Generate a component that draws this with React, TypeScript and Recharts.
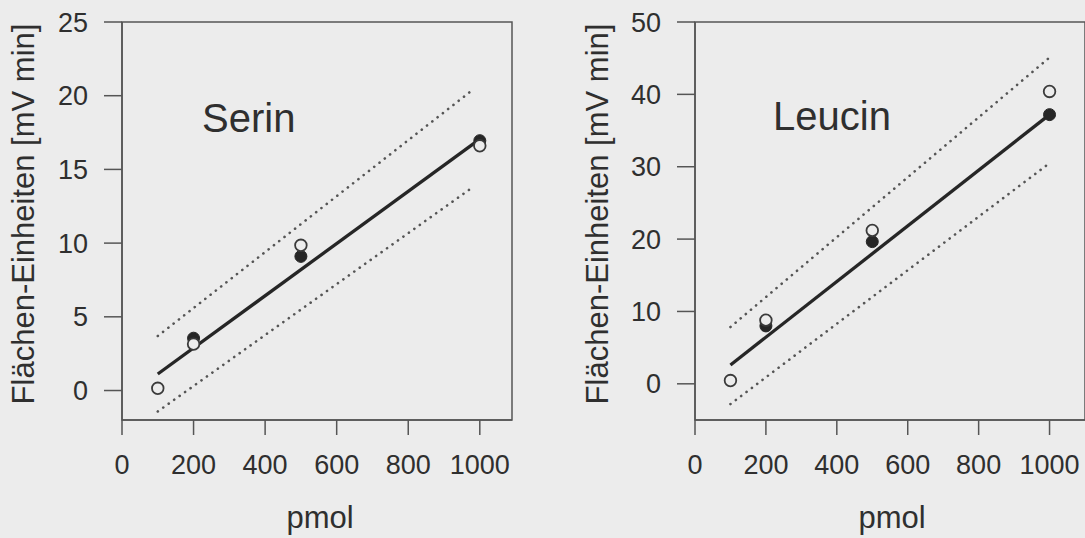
import React from "react";
import {
  ComposedChart,
  Line,
  Scatter,
  XAxis,
  YAxis,
  ReferenceArea,
} from "recharts";

// pmol amounts injected
const pmol = [100, 200, 500, 1000];
const xTicks = [0, 200, 400, 600, 800, 1000];

// Serin: open = one series, filled = other (no filled point at 100 pmol)
const serinOpen = [0.15, 3.15, 9.85, 16.6];
const serinFilled = [null, 3.55, 9.1, 16.95];
const serinFitX = [100, 1000];
const serinFit = [1.12, 17.05];
const serinBandX = [100, 975];
const serinUpper = [3.7, 20.3];
const serinLower = [-1.42, 13.7];
const serinYTicks = [0, 5, 10, 15, 20, 25];

// Leucin
const leucinOpen = [0.45, 8.8, 21.2, 40.4];
const leucinFilled = [null, 8.0, 19.65, 37.2];
const leucinFitX = [100, 1000];
const leucinFit = [2.6, 37.2];
const leucinBandX = [100, 1000];
const leucinUpper = [7.85, 45.1];
const leucinLower = [-2.8, 30.5];
const leucinYTicks = [0, 10, 20, 30, 40, 50];

const FONT = "'Liberation Sans', Arial, Helvetica, sans-serif";
const BG = "#ececec";
const INK = "#2f2f2f";
const AXIS = "#555";

type Pt = { x: number; y: number };

const toPts = (xs: number[], ys: (number | null)[]): Pt[] =>
  xs
    .map((x, i) => ({ x, y: ys[i] as number }))
    .filter((p) => p.y !== null && p.y !== undefined);

interface PanelProps {
  title: string;
  open: (number | null)[];
  filled: (number | null)[];
  fitX: number[];
  fit: number[];
  bandX: number[];
  upper: number[];
  lower: number[];
  yTicks: number[];
  xMax: number;
  yMin: number;
  width: number;
  margin: { top: number; right: number; bottom: number; left: number };
  yAxisWidth: number;
  yTickSize: number;
  yTickMargin: number;
  titleX: number;
  titleY: number;
  yLabelX: number;
  pmolX: number;
}

function Panel(p: PanelProps) {
  const yMax = p.yTicks[p.yTicks.length - 1];
  const dotted = {
    stroke: "#555",
    strokeWidth: 2.6,
    strokeDasharray: "0.1 6.6",
    strokeLinecap: "round" as const,
  };
  return (
    <ComposedChart width={p.width} height={538} margin={p.margin}>
      <XAxis
        dataKey="x"
        type="number"
        domain={[0, p.xMax]}
        allowDataOverflow
        ticks={xTicks}
        interval={0}
        height={60}
        tickSize={15}
        tickMargin={20}
        axisLine={{ stroke: AXIS, strokeWidth: 1.5 }}
        tickLine={{ stroke: AXIS, strokeWidth: 1.5 }}
        tick={{ fontSize: 27, fill: INK, fontFamily: FONT }}
      />
      <YAxis
        type="number"
        domain={[p.yMin, yMax]}
        allowDataOverflow
        ticks={p.yTicks}
        interval={0}
        width={p.yAxisWidth}
        tickSize={p.yTickSize}
        tickMargin={p.yTickMargin}
        axisLine={{ stroke: AXIS, strokeWidth: 1.5 }}
        tickLine={{ stroke: AXIS, strokeWidth: 1.5 }}
        tick={{ fontSize: 27, fill: INK, fontFamily: FONT }}
      />
      <ReferenceArea
        x1={0}
        x2={p.xMax}
        y1={p.yMin}
        y2={yMax}
        fill="none"
        stroke={AXIS}
        strokeWidth={1.5}
        ifOverflow="visible"
      />
      <Line
        data={toPts(p.bandX, p.upper)}
        dataKey="y"
        type="linear"
        dot={false}
        {...dotted}
        isAnimationActive={false}
      />
      <Line
        data={toPts(p.bandX, p.lower)}
        dataKey="y"
        type="linear"
        dot={false}
        {...dotted}
        isAnimationActive={false}
      />
      <Line
        data={toPts(p.fitX, p.fit)}
        dataKey="y"
        type="linear"
        dot={false}
        stroke="#262626"
        strokeWidth={3.3}
        isAnimationActive={false}
      />
      <Scatter
        data={toPts(pmol, p.filled)}
        dataKey="y"
        isAnimationActive={false}
        shape={(s: any) => (
          <circle cx={s.cx} cy={s.cy} r={6} fill="#262626" stroke="#262626" />
        )}
      />
      <Scatter
        data={toPts(pmol, p.open)}
        dataKey="y"
        isAnimationActive={false}
        shape={(s: any) => (
          <circle cx={s.cx} cy={s.cy} r={5.8} fill={BG} stroke="#3a3a3a" strokeWidth={1.8} />
        )}
      />
      <text x={p.titleX} y={p.titleY} fontSize={40} fill={INK} fontFamily={FONT}>
        {p.title}
      </text>
      <text
        x={p.yLabelX}
        y={214}
        transform={`rotate(-90 ${p.yLabelX} 214)`}
        textAnchor="middle"
        dominantBaseline="central"
        fontSize={31}
        fill={INK}
        fontFamily={FONT}
      >
        Flächen-Einheiten [mV min]
      </text>
      <text
        x={p.pmolX}
        y={528}
        textAnchor="middle"
        fontSize={31}
        fill={INK}
        fontFamily={FONT}
      >
        pmol
      </text>
    </ComposedChart>
  );
}

export default function App() {
  return (
    <div
      style={{
        position: "absolute",
        left: 0,
        top: 0,
        width: 1085,
        height: 538,
        background: BG,
        overflow: "hidden",
        fontFamily: FONT,
      }}
    >
      <div style={{ position: "absolute", left: 0, top: 0 }}>
        <Panel
          title="Serin"
          open={serinOpen}
          filled={serinFilled}
          fitX={serinFitX}
          fit={serinFit}
          bandX={serinBandX}
          upper={serinUpper}
          lower={serinLower}
          yTicks={serinYTicks}
          xMax={1090}
          yMin={-2}
          width={560}
          margin={{ top: 22, right: 48, bottom: 58, left: 42 }}
          yAxisWidth={80}
          yTickSize={18}
          yTickMargin={16}
          titleX={202}
          titleY={132}
          yLabelX={23}
          pmolX={320}
        />
      </div>
      <div style={{ position: "absolute", left: 560, top: 0 }}>
        <Panel
          title="Leucin"
          open={leucinOpen}
          filled={leucinFilled}
          fitX={leucinFitX}
          fit={leucinFit}
          bandX={leucinBandX}
          upper={leucinUpper}
          lower={leucinLower}
          yTicks={leucinYTicks}
          xMax={1100}
          yMin={-5}
          width={526}
          margin={{ top: 22, right: 1, bottom: 58, left: 40 }}
          yAxisWidth={95}
          yTickSize={18}
          yTickMargin={16}
          titleX={213}
          titleY={130}
          yLabelX={37}
          pmolX={332}
        />
      </div>
    </div>
  );
}
